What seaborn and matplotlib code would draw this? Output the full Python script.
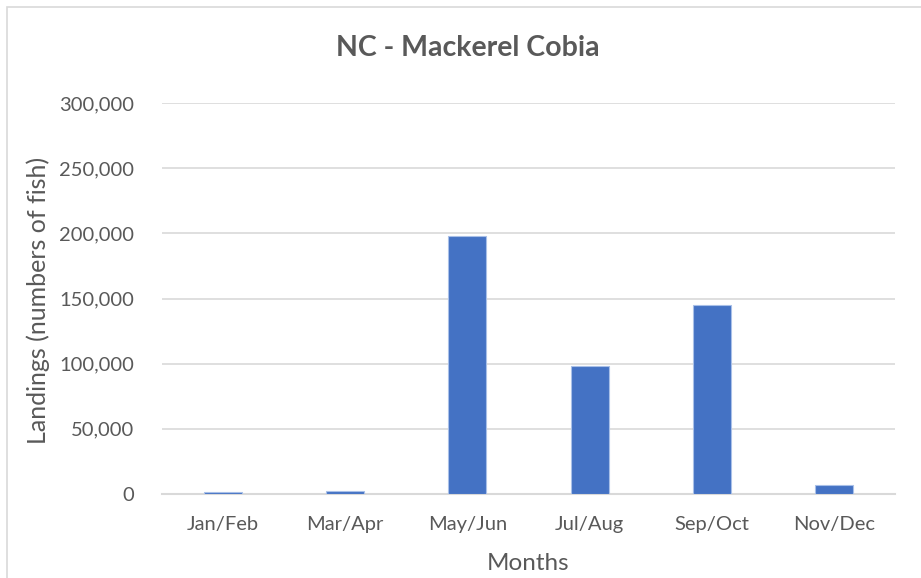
import matplotlib
matplotlib.use("Agg")
import matplotlib.pyplot as plt
import seaborn as sns
import pandas as pd
from matplotlib.patches import Rectangle
from matplotlib.ticker import FuncFormatter

months = ["Jan/Feb", "Mar/Apr", "May/Jun", "Jul/Aug", "Sep/Oct", "Nov/Dec"]
landings = [1500, 2500, 198000, 98000, 145000, 7000]

df = pd.DataFrame({"Months": months, "Landings": landings})

sns.set_theme(style="white")
plt.rcParams["font.family"] = ["Lato", "DejaVu Sans"]

fig = plt.figure(figsize=(9.21, 5.78), dpi=100)
ax = fig.add_axes([162/921, 1-494/578, (895-162)/921, (494-103)/578])

sns.barplot(data=df, x="Months", y="Landings", color="#4472c4", width=0.31,
            saturation=1, ax=ax, edgecolor="#a9c0e8", linewidth=0.8, zorder=3)

ax.set_ylim(0, 300000)
ax.set_yticks(range(0, 300001, 50000))
ax.yaxis.set_major_formatter(FuncFormatter(lambda v, p: f"{int(v):,}"))
ax.grid(axis="y", color="#d9d9d9", linewidth=1.2, zorder=0)
for s in ["top", "right", "left"]:
    ax.spines[s].set_visible(False)
ax.spines["bottom"].set_color("#d9d9d9")
ax.spines["bottom"].set_linewidth(1.5)
ax.tick_params(axis="both", length=0, labelsize=14.5, colors="#595959")
ax.tick_params(axis="x", pad=16)
ax.tick_params(axis="y", pad=20)
ax.set_xlabel("Months", fontsize=17.5, color="#595959")
ax.xaxis.set_label_coords(0.5, (494 - 563) / 391)
ax.xaxis.label.set_va("center")
ax.set_ylabel("Landings (numbers of fish)", fontsize=18, color="#595959")
ax.yaxis.set_label_coords((38 - 162) / 733, (494 - 300) / 391)
ax.yaxis.label.set_va("center")
fig.text(468/921, 1-48/578, "NC - Mackerel Cobia", ha="center", va="center",
         fontsize=20.5, fontweight="bold", color="#595959")

fig.patches.append(Rectangle((7/921, -0.1), 1.0, 1-7/578+0.1, transform=fig.transFigure,
                             fill=False, edgecolor="#d9d9d9", linewidth=1.2))

fig.savefig("out.png", dpi=100)
